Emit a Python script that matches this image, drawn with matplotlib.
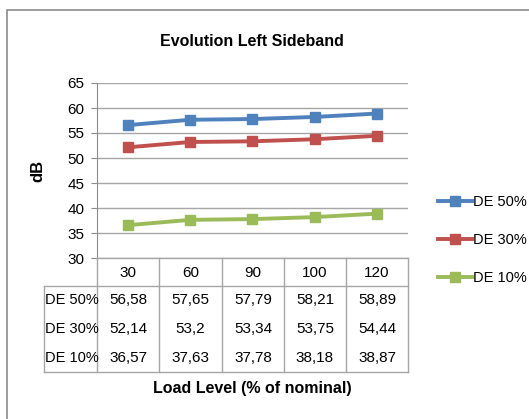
import matplotlib
matplotlib.use("Agg")
import matplotlib.pyplot as plt
from matplotlib.patches import Rectangle
from matplotlib.lines import Line2D

categories = ["30", "60", "90", "100", "120"]
series_names = ["DE 50%", "DE 30%", "DE 10%"]
de50 = [56.58, 57.65, 57.79, 58.21, 58.89]
de30 = [52.14, 53.2, 53.34, 53.75, 54.44]
de10 = [36.57, 37.63, 37.78, 38.18, 38.87]
series = [de50, de30, de10]
colors = ["#4F81BD", "#C0504D", "#9BBB59"]
yticks = [30, 35, 40, 45, 50, 55, 60, 65]

plt.rcParams['font.family'] = ['Liberation Sans', 'DejaVu Sans']

W, H = 529, 419
fig = plt.figure(figsize=(W / 100, H / 100), dpi=100)
fig.patch.set_facecolor("white")

# outer chart border
fig.add_artist(Rectangle((7 / W, -0.1), 1.2, 1 - 10 / H + 0.1, transform=fig.transFigure,
                         fill=False, edgecolor="#8C8C8C", linewidth=1.2))

left, right, top, bottom = 97, 408, 83, 258
ax = fig.add_axes([left / W, 1 - bottom / H, (right - left) / W, (bottom - top) / H])
ax.set_xlim(-0.5, len(categories) - 0.5)
ax.set_ylim(30, 65)
ax.set_yticks(yticks)
ax.set_yticklabels([str(v) for v in yticks], fontsize=11)
ax.set_xticks([])
for s in ["top", "right", "bottom"]:
    ax.spines[s].set_visible(False)
ax.spines["left"].set_color("#8C8C8C")
ax.tick_params(axis="y", length=4, color="#8C8C8C", pad=5)
ax.grid(axis="y", color="#A6A6A6", linewidth=1)
ax.set_axisbelow(True)

x = list(range(len(categories)))
for name, vals, c in zip(series_names, series, colors):
    ax.plot(x, vals, color=c, linewidth=2.8, marker="s", markersize=7.5, label=name)

ax.set_ylabel("dB", fontsize=12, fontweight="bold", labelpad=16)
fig.text(252 / W, 1 - 42 / H, "Evolution Left Sideband", ha="center", va="center",
         fontsize=11.5, fontweight="bold")

# data table
px = lambda v: v / W
py = lambda v: 1 - v / H
col_edges = [44, 97, 159, 222, 284, 346, 408]
row_edges = [258, 286, 314.7, 343.3, 372]
lc = "#A6A6A6"
def hline(xa, xb, y):
    fig.add_artist(Line2D([px(xa), px(xb)], [py(y), py(y)], color=lc, linewidth=1))
def vline(xv, ya, yb):
    fig.add_artist(Line2D([px(xv), px(xv)], [py(ya), py(yb)], color=lc, linewidth=1))

hline(97, 408, row_edges[0])
hline(44, 408, row_edges[1])
hline(44, 408, row_edges[-1])
vline(44, row_edges[1], row_edges[-1])
for xe in col_edges[1:]:
    vline(xe, row_edges[0], row_edges[-1])

for i, cat in enumerate(categories):
    cx = (col_edges[i + 1] + col_edges[i + 2]) / 2
    fig.text(px(cx), py((row_edges[0] + row_edges[1]) / 2 + 1), cat, ha="center", va="center", fontsize=11)
for r, (name, vals) in enumerate(zip(series_names, series)):
    cy = (row_edges[r + 1] + row_edges[r + 2]) / 2
    fig.text(px((col_edges[0] + col_edges[1]) / 2 + 1), py(cy), name, ha="center", va="center", fontsize=10.5)
    for i, v in enumerate(vals):
        cx = (col_edges[i + 1] + col_edges[i + 2]) / 2
        fig.text(px(cx), py(cy), f"{v:g}".replace(".", ","), ha="center", va="center", fontsize=11)

fig.text(px(252), py(388), "Load Level (% of nominal)", ha="center", va="center",
         fontsize=11.5, fontweight="bold")

# legend
handles, labels = ax.get_legend_handles_labels()
leg = fig.legend(handles, labels, loc="center left", bbox_to_anchor=(438 / W, 1 - 240 / H),
                 frameon=False, fontsize=10.5, handlelength=2.3, labelspacing=1.65,
                 handletextpad=0.1, borderaxespad=0, borderpad=0)

fig.savefig("out.png", dpi=100)
